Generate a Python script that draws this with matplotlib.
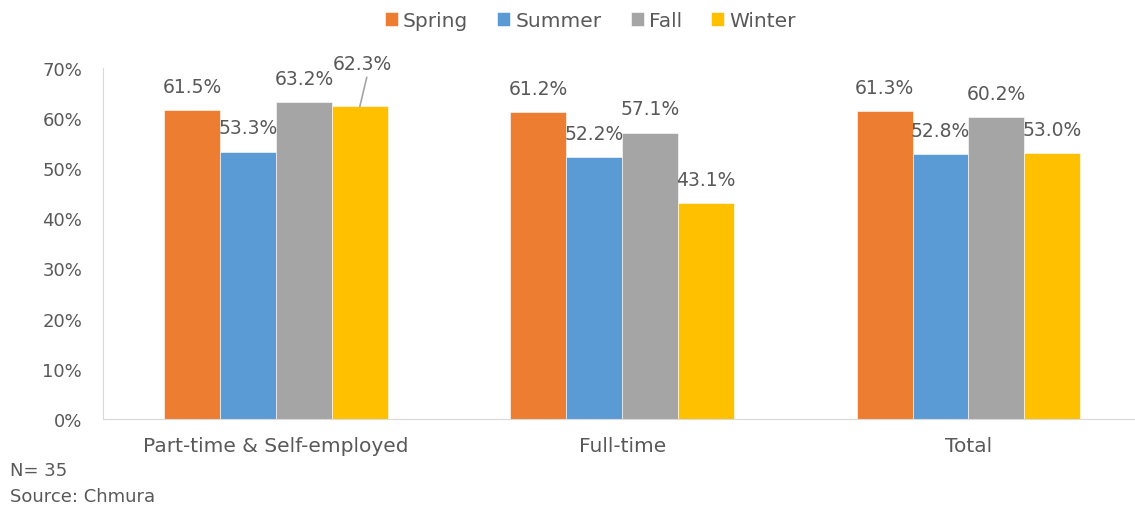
import numpy as np
import matplotlib.pyplot as plt

# share of respondents by season
categories = ['Part-time & Self-employed', 'Full-time', 'Total']
seasons = ['Spring', 'Summer', 'Fall', 'Winter']
spring = [61.5, 61.2, 61.3]
summer = [53.3, 52.2, 52.8]
fall = [63.2, 57.1, 60.2]
winter = [62.3, 43.1, 53.0]
colors = ['#ED7D31', '#5B9BD5', '#A5A5A5', '#FFC000']

TEXT = '#595959'
plt.rcParams['font.family'] = ['DejaVu Sans']

fig = plt.figure(figsize=(11.35, 5.06), dpi=100)
ax = fig.add_axes([0.0907, 0.170, 0.915, 0.694])

x = np.arange(len(categories))
width = 0.1614
series = [spring, summer, fall, winter]
for i, (name, vals, c) in enumerate(zip(seasons, series, colors)):
    pos = x + (i - 1.5) * width
    ax.bar(pos, vals, width, color=c, label=name, edgecolor='white', linewidth=0.4)
    for j, (p, v) in enumerate(zip(pos, vals)):
        if i == 3 and j == 0:
            # label pushed up with a leader line
            ax.annotate(f'{v:.1f}%', xy=(p, v), xytext=(2, 31), textcoords='offset points',
                        ha='center', va='center', fontsize=13.5, color=TEXT)
            ax.annotate('', xy=(p, v), xytext=(5, 21), textcoords='offset points',
                        arrowprops=dict(arrowstyle='-', color='#A5A5A5', lw=1.2,
                                        shrinkA=0, shrinkB=0))
        else:
            ax.annotate(f'{v:.1f}%', xy=(p, v), xytext=(0, 17), textcoords='offset points',
                        ha='center', va='center', fontsize=13.5, color=TEXT)

ax.set_xlim(-0.5, 2.5)
ax.set_ylim(0, 70)
ax.set_yticks(np.arange(0, 71, 10))
ax.set_yticklabels([f'{t}%' for t in range(0, 71, 10)])
ax.set_xticks(x)
ax.set_xticklabels(categories)
ax.tick_params(axis='y', length=0, labelsize=13, colors=TEXT, pad=15)
ax.tick_params(axis='x', length=0, labelsize=14.5, colors=TEXT, pad=12)
for s in ['top', 'right']:
    ax.spines[s].set_visible(False)
ax.spines['bottom'].set_color('#D9D9D9')
ax.spines['left'].set_color('#D9D9D9')

fig.legend(loc='upper center', bbox_to_anchor=(0.52, 1.012), ncol=4, frameon=False,
           fontsize=14.5, handlelength=0.65, handleheight=0.65, handletextpad=0.25,
           columnspacing=1.45, labelcolor=TEXT)

fig.text(0.009, 0.070, 'N= 35', fontsize=13, color=TEXT, va='center')
fig.text(0.009, 0.017, 'Source: Chmura', fontsize=13, color=TEXT, va='center')

fig.savefig('out.png', dpi=100)
